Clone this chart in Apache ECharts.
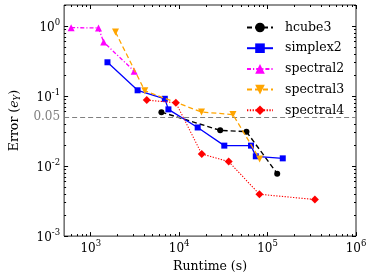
<!DOCTYPE html>
<html><head><meta charset="utf-8">
<script src="https://cdn.jsdelivr.net/npm/echarts@6/dist/echarts.min.js"></script>
<style>html,body{margin:0;padding:0;background:#fff}#c{width:374px;height:278px}</style>
</head><body><div id="c"></div>
<script>
const seriesNames = ['hcube3', 'simplex2', 'spectral2', 'spectral3', 'spectral4'];
const hcube3Runtime = [6300, 29100, 57700, 128500];
const hcube3Error = [0.059, 0.0324, 0.031, 0.0078];
const simplex2Runtime = [1546, 3390, 6880, 7560, 16200, 32400, 64900, 73600, 148500];
const simplex2Error = [0.304, 0.121, 0.0915, 0.0646, 0.0356, 0.0196, 0.0196, 0.0138, 0.0129];
const spectral2Runtime = [600, 1224, 1400, 3100];
const spectral2Error = [0.95, 0.94, 0.59, 0.227];
const spectral3Runtime = [1905, 4090, 17900, 40600, 81300];
const spectral3Error = [0.82, 0.119, 0.0593, 0.0544, 0.0126];
const spectral4Runtime = [4300, 9180, 18000, 36300, 80900, 342600];
const spectral4Error = [0.0877, 0.0803, 0.0149, 0.0116, 0.00396, 0.00333];
const thresholdValue = 0.05;
const thresholdLabel = '0.05';
const xRange = [500, 1e6];
const yRange = [0.001, 2];
const xMajorTicks = [1e3, 1e4, 1e5, 1e6];
const yMajorTicks = [1e-3, 1e-2, 1e-1, 1];
const xMinorTicks = [600, 700, 800, 900, 2000, 3000, 4000, 5000, 6000, 7000, 8000, 9000,
  2e4, 3e4, 4e4, 5e4, 6e4, 7e4, 8e4, 9e4, 2e5, 3e5, 4e5, 5e5, 6e5, 7e5, 8e5, 9e5];
const yMinorTicks = [0.002, 0.003, 0.004, 0.005, 0.006, 0.007, 0.008, 0.009,
  0.02, 0.03, 0.04, 0.05, 0.06, 0.07, 0.08, 0.09, 0.2, 0.3, 0.4, 0.5, 0.6, 0.7, 0.8, 0.9, 2];
const xLabel = 'Runtime (s)';

const FONT = 'DejaVu Serif';
function pair(xs, ys) { return xs.map((x, i) => [x, ys[i]]); }
function expLabel(v) {
  const e = Math.round(Math.log10(v));
  return '{n|10}{s|' + e + '}';
}
const richExp = {
  n: { fontFamily: FONT, fontSize: 12, color: '#000', lineHeight: 16, verticalAlign: 'bottom' },
  s: { fontFamily: FONT, fontSize: 8.5, color: '#000', lineHeight: 16, verticalAlign: 'top' },
  g: { fontFamily: FONT, fontSize: 12, color: '#808080', lineHeight: 16 }
};
function baseAxis(pos, type, range, ticks, len, showLabel, labelVals) {
  const ax = {
    type: 'log', logBase: 10, min: range[0], max: range[1], position: pos,
    axisLine: { show: false },
    splitLine: { show: false },
    axisTick: { show: true, inside: true, length: len, customValues: ticks,
      lineStyle: { color: '#000', width: 1 } },
    axisLabel: { show: false }
  };
  if (showLabel) {
    ax.axisLabel = {
      show: true, customValues: labelVals, margin: pos === 'bottom' ? 3 : 4,
      formatter: function (v) {
        if (Math.abs(v - thresholdValue) < 1e-9) return '{g|' + thresholdLabel + '}';
        return expLabel(v);
      },
      rich: richExp
    };
  }
  return ax;
}

const xAxes = [
  Object.assign(baseAxis('bottom', 'x', xRange, xMajorTicks, 4, true, xMajorTicks), {
    name: xLabel, nameLocation: 'middle', nameGap: 19,
    nameTextStyle: { fontFamily: FONT, fontSize: 12.5, color: '#000' }
  }),
  baseAxis('bottom', 'x', xRange, xMinorTicks, 2, false),
  baseAxis('top', 'x', xRange, xMajorTicks, 4, false),
  baseAxis('top', 'x', xRange, xMinorTicks, 2, false)
];
const yLeftMajor = yMajorTicks.concat([thresholdValue]);
const yAxes = [
  Object.assign(baseAxis('left', 'y', yRange, yLeftMajor, 4, true, yLeftMajor), {
    name: '{a|Error (}{i|e}{sub|Y}{a|)}', nameLocation: 'middle', nameGap: 37, nameRotate: 90,
    nameTextStyle: {
      rich: {
        a: { fontFamily: FONT, fontSize: 12.5, color: '#000', lineHeight: 16 },
        i: { fontFamily: FONT, fontSize: 12.5, fontStyle: 'italic', color: '#000', lineHeight: 16 },
        sub: { fontFamily: FONT, fontSize: 8.5, fontStyle: 'italic', color: '#000', lineHeight: 16, verticalAlign: 'bottom' }
      }
    }
  }),
  baseAxis('left', 'y', yRange, yMinorTicks, 2, false),
  baseAxis('right', 'y', yRange, yMajorTicks, 4, false),
  baseAxis('right', 'y', yRange, yMinorTicks, 2, false)
];

const styles = {
  hcube3: { color: '#000000', type: [5, 3], symbol: 'circle', size: 6, rot: 0, width: 1.4 },
  simplex2: { color: '#0000ff', type: 'solid', symbol: 'rect', size: 6, rot: 0, width: 1.3 },
  spectral2: { color: '#ff00ff', type: [4, 2, 1.2, 2], symbol: 'triangle', size: 7, rot: 0, width: 1.3 },
  spectral3: { color: '#ffa500', type: [5, 3], symbol: 'triangle', size: 7, rot: 180, width: 1.3 },
  spectral4: { color: '#ff0000', type: [1.3, 1.5], symbol: 'diamond', size: 8, rot: 0, width: 1.1 }
};
const dataMap = {
  hcube3: pair(hcube3Runtime, hcube3Error),
  simplex2: pair(simplex2Runtime, simplex2Error),
  spectral2: pair(spectral2Runtime, spectral2Error),
  spectral3: pair(spectral3Runtime, spectral3Error),
  spectral4: pair(spectral4Runtime, spectral4Error)
};
const series = seriesNames.map(function (n, idx) {
  const s = styles[n];
  const ser = {
    name: n, type: 'line', data: dataMap[n], xAxisIndex: 0, yAxisIndex: 0,
    symbol: s.symbol, symbolSize: s.size, symbolRotate: s.rot, showSymbol: true,
    itemStyle: { color: s.color, borderWidth: 0 },
    lineStyle: { color: s.color, width: s.width, type: s.type },
    animation: false, z: 3 + idx
  };
  if (idx === 0) {
    ser.markLine = {
      silent: true, symbol: 'none', animation: false,
      label: { show: false },
      lineStyle: { color: '#808080', type: [5, 3], width: 1.2 },
      data: [{ yAxis: thresholdValue }]
    };
  }
  return ser;
});

const chart = echarts.init(document.getElementById('c'), null, { renderer: 'canvas' });
chart.setOption({
  animation: false,
  backgroundColor: '#fff',
  grid: { left: 53, right: 18, top: 5, bottom: 39, show: true, borderColor: '#222', borderWidth: 1, backgroundColor: '#fff' },
  xAxis: xAxes,
  yAxis: yAxes,
  legend: {
    orient: 'vertical', left: 241, top: 16, itemWidth: 26, itemHeight: 12, itemGap: 7.7,
    data: seriesNames,
    textStyle: { fontFamily: FONT, fontSize: 12.5, color: '#000', padding: [0, 0, 0, 7] },
    icon: null
  },
  series: series
});
</script></body></html>
